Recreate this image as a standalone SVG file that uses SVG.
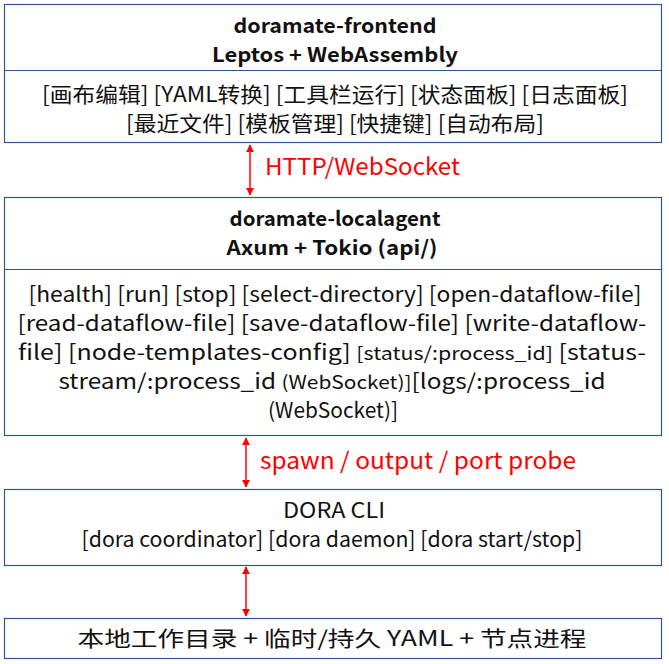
<svg xmlns="http://www.w3.org/2000/svg" width="669" height="664" viewBox="0 0 669 664">
<defs>
<marker id="ah" viewBox="0 0 10 10" refX="9" refY="5" markerWidth="8" markerHeight="8" orient="auto-start-reverse" markerUnits="userSpaceOnUse"><path d="M0,0 L10,5 L0,10 z" fill="#ff0000"/></marker>
<style>
.box{fill:#fff;stroke:#2f5597;stroke-width:1.2}
.t{font-family:"Noto Sans CJK SC","Noto Sans",sans-serif;fill:#111;text-anchor:middle;font-size:21px}
.b{font-weight:bold;font-size:20px}
.r{font-family:"Noto Sans CJK SC","Noto Sans",sans-serif;fill:#ff0000;font-size:23px}
.c{stroke:#ff0000;stroke-width:1.5;fill:none;marker-start:url(#ah);marker-end:url(#ah)}
</style>
</defs>
<rect width="669" height="664" fill="#fff"/>
<g id="frontend">
<rect class="box" x="4.5" y="4.5" width="657" height="138"/>
<line class="box" x1="4.5" y1="70.5" x2="661.5" y2="70.5"/>
<text class="t b" x="335" y="33" textLength="203" lengthAdjust="spacingAndGlyphs">doramate-frontend</text>
<text class="t b" x="335" y="62" textLength="246" lengthAdjust="spacingAndGlyphs">Leptos + WebAssembly</text>
<text class="t" x="335" y="102" textLength="586" lengthAdjust="spacingAndGlyphs">[画布编辑] [YAML转换] [工具栏运行] [状态面板] [日志面板]</text>
<text class="t" x="335" y="131" textLength="418" lengthAdjust="spacingAndGlyphs">[最近文件] [模板管理] [快捷键] [自动布局]</text>
</g>
<g id="localagent">
<rect class="box" x="4.5" y="197.5" width="657" height="238"/>
<line class="box" x1="4.5" y1="269.5" x2="661.5" y2="269.5"/>
<text class="t b" x="335" y="226" textLength="211" lengthAdjust="spacingAndGlyphs">doramate-localagent</text>
<text class="t b" x="332" y="255" textLength="211" lengthAdjust="spacingAndGlyphs">Axum + Tokio (api/)</text>
<text class="t" x="335" y="302" textLength="613" lengthAdjust="spacingAndGlyphs">[health] [run] [stop] [select-directory] [open-dataflow-file]</text>
<text class="t" x="332" y="331" textLength="629" lengthAdjust="spacingAndGlyphs">[read-dataflow-file] [save-dataflow-file] [write-dataflow-</text>
<text class="t" x="332" y="360" textLength="628" lengthAdjust="spacingAndGlyphs">file] [node-templates-config] <tspan font-size="18">[status/:process_id]</tspan> [status-</text>
<text class="t" x="332" y="389" textLength="547" lengthAdjust="spacingAndGlyphs">stream/:process_id    <tspan font-size="18">(WebSocket)]</tspan>[logs/:process_id</text>
<text class="t" x="333" y="418" font-size="18" textLength="130" lengthAdjust="spacingAndGlyphs">(WebSocket)]</text>
</g>
<g id="doracli">
<rect class="box" x="4.5" y="489.5" width="657" height="76"/>
<text class="t" x="334" y="518" font-size="22" textLength="102" lengthAdjust="spacingAndGlyphs">DORA CLI</text>
<text class="t" x="332" y="547" textLength="501" lengthAdjust="spacingAndGlyphs">[dora coordinator] [dora daemon] [dora start/stop]</text>
</g>
<g id="local">
<rect class="box" x="4.5" y="618.5" width="657" height="40"/>
<text class="t" x="332" y="646" font-size="24" textLength="509" lengthAdjust="spacingAndGlyphs">本地工作目录 + 临时/持久 YAML + 节点进程</text>
</g>
<g id="connectors">
<line class="c" x1="250" y1="145" x2="250" y2="195"/>
<text class="r" x="265" y="175" textLength="195" lengthAdjust="spacingAndGlyphs">HTTP/WebSocket</text>
<line class="c" x1="246" y1="438" x2="246" y2="487"/>
<text class="r" x="260" y="469" textLength="316" lengthAdjust="spacingAndGlyphs">spawn / output / port probe</text>
<line class="c" x1="246" y1="567" x2="246" y2="616"/>
</g>
</svg>
